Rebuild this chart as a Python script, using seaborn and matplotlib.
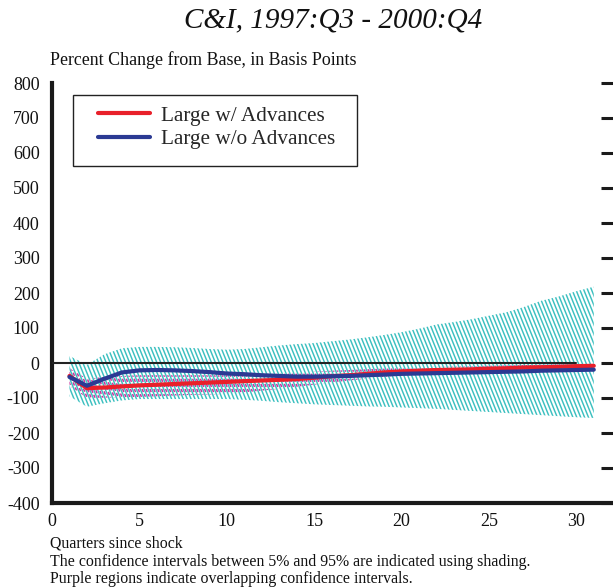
import matplotlib
matplotlib.use("Agg")
import matplotlib.pyplot as plt
from matplotlib.collections import LineCollection
from matplotlib.patches import Rectangle
import seaborn as sns
import numpy as np
import pandas as pd

quarters = list(range(1, 32))
red_mean = [-37, -72, -70, -67, -64, -62, -60, -58, -56, -54, -52, -50, -48, -46, -42,
            -38, -35, -31, -27, -24, -22, -20, -19, -18, -16, -15, -13, -12, -11, -9, -8]
blue_mean = [-40, -65, -45, -27, -21, -20, -21, -23, -26, -30, -32, -35, -37, -39, -39,
             -38, -37, -35, -33, -31, -30, -29, -28, -27, -26, -25, -24, -22, -21, -20, -19]
red_hi = [-15, -45, -40, -37, -35, -35, -35, -35, -35, -35, -33, -31, -30, -28, -25,
          -22, -20, -18, -15, -13, -12, -11, -10, -9, -8, -7, -6, -5, -4, -4, -3]
red_lo = [-65, -100, -99, -98, -97, -95, -93, -91, -90, -88, -84, -79, -74, -68, -62,
          -56, -50, -45, -40, -35, -33, -31, -30, -29, -28, -27, -25, -24, -22, -21, -20]
teal_hi = [20, -5, 25, 42, 46, 46, 45, 43, 40, 38, 40, 45, 50, 54, 57,
           62, 67, 73, 80, 88, 98, 110, 117, 125, 135, 145, 160, 178, 190, 205, 218]
teal_lo = [-95, -125, -115, -107, -103, -103, -103, -103, -103, -103, -105, -108, -112, -115, -118,
           -120, -122, -124, -125, -127, -129, -131, -134, -137, -140, -143, -146, -149, -152, -155, -157]

labels = ["Large w/ Advances", "Large w/o Advances"]
line_colors = ["#E8202A", "#2B3A93"]
xticks = [0, 5, 10, 15, 20, 25, 30]
yticks = [-400, -300, -200, -100, 0, 100, 200, 300, 400, 500, 600, 700, 800]

sns.set_style("white")
plt.rcParams['font.family'] = ['Liberation Serif', 'DejaVu Serif']
plt.rcParams['axes.unicode_minus'] = False

W, H = 613, 588
AX_L, AX_R, AX_T, AX_B = 52, 613, 83, 503
AXW, AXH = AX_R - AX_L, AX_B - AX_T

fig = plt.figure(figsize=(W / 100, H / 100), dpi=100)
ax = fig.add_axes([AX_L / W, (H - AX_B) / H, AXW / W, AXH / H])

df = pd.DataFrame({
    "q": quarters * 2,
    "v": red_mean + blue_mean,
    "s": [labels[0]] * len(quarters) + [labels[1]] * len(quarters),
})
sns.lineplot(data=df, x="q", y="v", hue="s", palette=line_colors, linewidth=3,
             ax=ax, zorder=6, legend=True)

ax.plot([0, 30], [0, 0], color="#222222", linewidth=1.5, zorder=6)


def stripe_fill(lo, hi, color, spacing_px, angle_deg, lw, offset=0.0, dashes=None, z=4):
    poly = ax.fill_between(quarters, lo, hi, facecolor="none", linewidth=0, zorder=z)
    shift = AXH / np.tan(np.radians(angle_deg))
    starts = np.arange(-shift - 10 + offset, AXW + 10, spacing_px)
    segs = [[(x0 / AXW, 1.0), ((x0 + shift) / AXW, 0.0)] for x0 in starts]
    lc = LineCollection(segs, colors=color, linewidths=lw, transform=ax.transAxes,
                        zorder=z)
    if dashes is not None:
        lc.set_linestyle((0, dashes))
    ax.add_collection(lc)
    lc.set_clip_path(poly.get_paths()[0], ax.transData)


stripe_fill(teal_lo, teal_hi, "#3CC0C0", 3.9, 68, 1.05, z=4)
stripe_fill(red_lo, red_hi, "#C8359E", 3.9, 68, 1.1, offset=1.9, dashes=(2.2, 1.4), z=5)

ax.set_xlim(0, 32.1)
ax.set_ylim(-400, 800)
ax.set_xticks(xticks)
ax.set_yticks(yticks)
ax.set_xlabel("")
ax.set_ylabel("")
for s in ["top", "right"]:
    ax.spines[s].set_visible(False)
for s in ["left", "bottom"]:
    ax.spines[s].set_linewidth(3)
    ax.spines[s].set_color("#1a1a1a")
ax.tick_params(axis="both", direction="in", length=9, width=2.2, color="#1a1a1a",
               labelsize=13, labelcolor="#111111")
ax.tick_params(axis="y", right=True, pad=9)
ax.tick_params(axis="x", pad=7)

# legend frame (drawn separately for the wide horizontal padding)
fx0, fx1 = (73 - AX_L) / AXW, (357 - AX_L) / AXW
fy0, fy1 = (AX_B - 166) / AXH, (AX_B - 95) / AXH
ax.add_patch(Rectangle((fx0, fy0), fx1 - fx0, fy1 - fy0, transform=ax.transAxes,
                       facecolor="white", edgecolor="#222222", linewidth=1.0, zorder=7))
leg = ax.legend(loc="upper left", bbox_to_anchor=((98 - AX_L) / AXW, (AX_B - 106) / AXH),
                borderaxespad=0, borderpad=0, fontsize=15.3, handlelength=2.45,
                handletextpad=0.5, frameon=False, labelspacing=0.15)
leg.set_zorder(8)
for lh in leg.get_lines():
    lh.set_linewidth(3)

fig.text(333 / W, 1 - 20 / H, "C&I, 1997:Q3 - 2000:Q4", ha="center", va="center",
         fontsize=21, style="italic", color="#111111")
fig.text(50 / W, 1 - 60 / H, "Percent Change from Base, in Basis Points", ha="left",
         va="center", fontsize=12.9, color="#111111")
fig.text(50 / W, 1 - 543 / H, "Quarters since shock", ha="left", va="center",
         fontsize=11.4, color="#111111")
fig.text(50 / W, 1 - 562 / H,
         "The confidence intervals between 5% and 95% are indicated using shading.",
         ha="left", va="center", fontsize=11.4, color="#111111")
fig.text(50 / W, 1 - 579 / H, "Purple regions indicate overlapping confidence intervals.",
         ha="left", va="center", fontsize=11.4, color="#111111")

fig.savefig("out.png", dpi=100)
